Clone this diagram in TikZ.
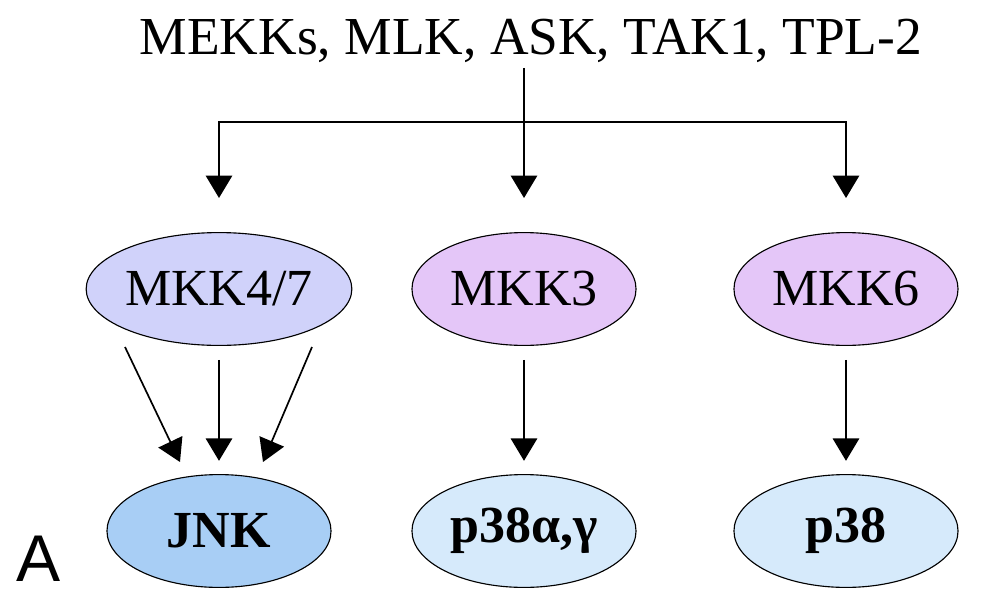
\documentclass[tikz,border=0pt]{standalone}
\usepackage{fontspec}
\setmainfont{Liberation Serif}
\newfontfamily\panelfont{Liberation Sans}
\usetikzlibrary{positioning,shapes,arrows.meta,calc}

\definecolor{mkkblue}{RGB}{208,210,250}
\definecolor{mkkviolet}{RGB}{228,198,248}
\definecolor{jnkblue}{RGB}{168,206,245}
\definecolor{pblue}{RGB}{214,234,251}

\begin{document}
\begin{tikzpicture}[
    x=0.025cm, y=-0.025cm,
    kinase/.style={ellipse, draw=black, line width=0.8pt, minimum width=5.6cm, minimum height=2.82cm, inner sep=0pt, font=\fontsize{37}{40}\selectfont},
    mapk/.style={kinase, font=\fontsize{37}{40}\selectfont\bfseries},
    link/.style={line width=1.2pt},
    arr/.style={link, -{Triangle[width=0.66cm,length=0.56cm]}}
]
    \useasboundingbox (0,0) rectangle (1001,593);

    \node[font=\fontsize{38}{40}\selectfont] (src) at (531,41) {MEKKs, MLK, ASK, TAK1, TPL-2};

    \node[kinase, fill=mkkblue] (mkk47) at (219,289) {MKK4/7};
    \node[kinase, fill=mkkviolet] (mkk3) at (524,289) {MKK3};
    \node[kinase, fill=mkkviolet] (mkk6) at (846,289) {MKK6};

    \node[mapk, fill=jnkblue] (jnk) at (219,531) {JNK};
    \node[mapk, fill=pblue] (p38ag) at (524,531) {p38α,γ};
    \node[mapk, fill=pblue] (p38) at (846,531) {p38};

    \node[font=\panelfont\fontsize{47}{50}\selectfont, inner sep=0pt] (panel) at (39,559) {A};

    % fork from the upstream kinases
    \coordinate (fork) at (524,122);
    \draw[link] (src.south -| fork) -- (fork);
    \draw[arr, shorten >=0.85cm] (fork) -- (mkk3.north);
    \draw[arr, shorten >=0.85cm] (fork) -| (mkk47.north);
    \draw[arr, shorten >=0.85cm] (fork) -| (mkk6.north);

    \draw[arr, shorten <=0.35cm, shorten >=0.33cm] (mkk47.south) -- (jnk.north);
    \draw[arr] ([shift={(-94,58)}]mkk47.center) -- ([shift={(-39,-69)}]jnk.center);
    \draw[arr] ([shift={(93,58)}]mkk47.center) -- ([shift={(44,-69)}]jnk.center);
    \draw[arr, shorten <=0.35cm, shorten >=0.33cm] (mkk3.south) -- (p38ag.north);
    \draw[arr, shorten <=0.35cm, shorten >=0.33cm] (mkk6.south) -- (p38.north);
\end{tikzpicture}
\end{document}
